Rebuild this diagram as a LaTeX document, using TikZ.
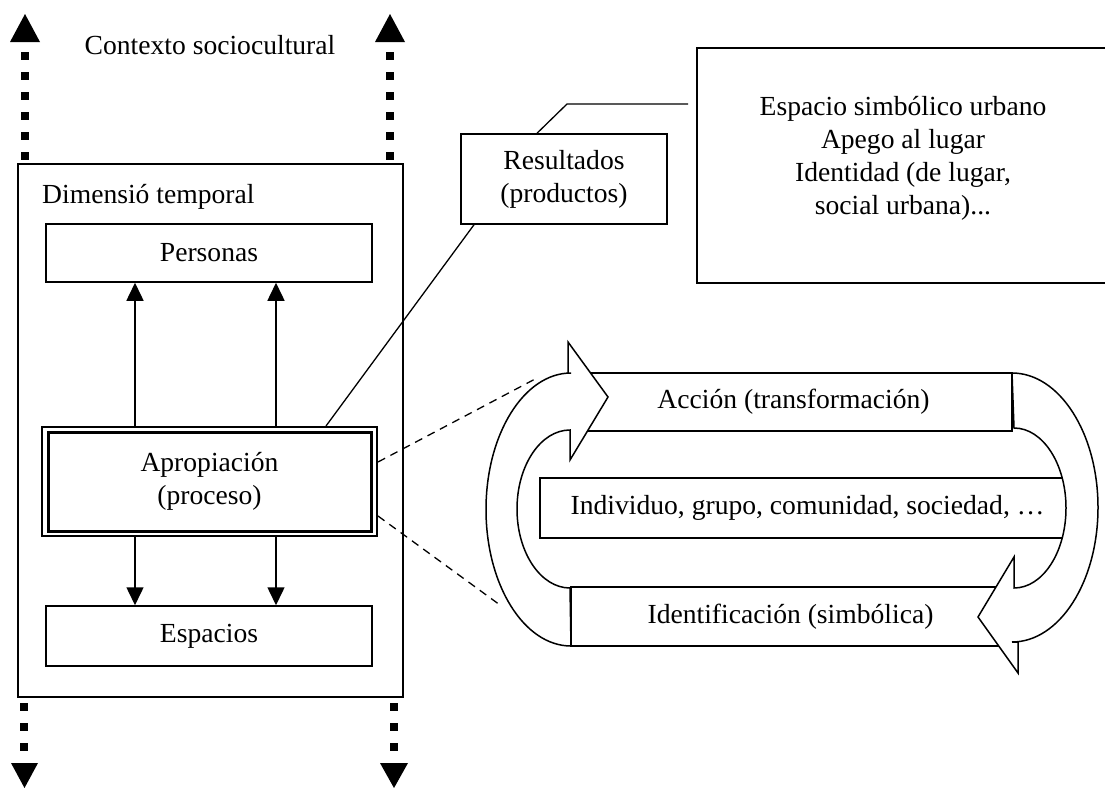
\documentclass[tikz,border=0pt]{standalone}
\usepackage{fontspec}
\setmainfont{Liberation Serif}
\usetikzlibrary{arrows.meta,calc}
\begin{document}
\begin{tikzpicture}[x=1pt,y=-1pt,line join=miter,
  every node/.style={font=\fontsize{27.6pt}{33pt}\selectfont},
  box/.style={draw,line width=1.5pt,fill=white,inner sep=0pt},
  arr/.style={line width=1.5pt,-{Triangle[width=17pt,length=18pt]}},
  ctx/.style={line width=8pt,dash pattern=on 8pt off 12pt},
  lnk/.style={line width=1.3pt},
  dsh/.style={line width=1.3pt,dash pattern=on 8pt off 6pt},
  curved/.style={draw,line width=1.5pt,fill=white,line join=miter}]
\useasboundingbox (0,0) rectangle (1105,787);

% context (dotted) arrows
\coordinate (tla) at (25,52);  \coordinate (tlb) at (25,162);
\coordinate (tra) at (390,52); \coordinate (trb) at (390,162);
\coordinate (bla) at (24,703); \coordinate (blb) at (24,752);
\coordinate (bra) at (394,703);\coordinate (brb) at (394,752);
\draw[ctx] (tla) -- (tlb);
\draw[ctx] (tra) -- (trb);
\draw[ctx] (bla) -- (blb);
\draw[ctx] (bra) -- (brb);
\fill (10,42) -- (40,42) -- (25,14) -- cycle;
\fill (375,42) -- (405,42) -- (390,14) -- cycle;
\fill (11,763) -- (38,763) -- (24.5,788) -- cycle;
\fill (380,763) -- (408,763) -- (394,788) -- cycle;

\node[anchor=base,inner sep=0pt] (ctxtxt) at (210,54) {Contexto sociocultural};

% temporal dimension box
\node[box,fill=none,anchor=north west,minimum width=385pt,minimum height=533pt] (dim) at (17,163) {};
\node[anchor=base west,inner sep=0pt] (dimtxt) at (42,203) {Dimensió temporal};

\node[box,minimum width=326pt,minimum height=58pt] (pers) at (209,253) {Personas};
\node[box,line width=2pt,minimum width=335pt,minimum height=109pt,align=center] (apro) at (209.5,481.5) {Apropiación\\(proceso)};
\draw[line width=3pt] ([shift={(7,6)}]apro.north west) rectangle ([shift={(-7,-6)}]apro.south east);
\node[box,minimum width=326pt,minimum height=60pt] (esp) at (209,636) {Espacios};

\coordinate (c1) at (135,0); \coordinate (c2) at (276,0);
\draw[arr] (apro.north -| c1) -- (pers.south -| c1);
\draw[arr] (apro.north -| c2) -- (pers.south -| c2);
\draw[arr] (apro.south -| c1) -- (esp.north -| c1);
\draw[arr] (apro.south -| c2) -- (esp.north -| c2);

% results
\node[box,minimum width=206pt,minimum height=90pt,align=center] (res) at (564,179) {Resultados\\(productos)};
\coordinate (r1) at (326,0); \coordinate (r2) at (474,0); \coordinate (r3) at (537,0);
\draw[lnk] (apro.north -| r1) -- (res.south -| r2);
\coordinate (bend) at (567,104); \coordinate (lend) at (688,104);
\draw[lnk] (res.north -| r3) -- (bend) -- (lend);

\node[box,anchor=north west,minimum width=430pt,minimum height=235pt] (big) at (696,47) {};
\node[align=center] (bigtxt) at (903,158) {Espacio simbólico urbano\\Apego al lugar\\Identidad (de lugar,\\social urbana)...};

% dashed zoom lines
\coordinate (da) at (0,462); \coordinate (db) at (0,516);
\coordinate (dae) at (537,378); \coordinate (dbe) at (500,605);
\draw[dsh] (apro.east |- da) -- (dae);
\draw[dsh] (apro.east |- db) -- (dbe);

% cycle
\node[box,minimum width=437pt,minimum height=58pt] (acc) at (793.5,402) {Acción (transformación)};
\node[box,minimum width=535pt,minimum height=60pt] (ind) at (807.5,508) {Individuo, grupo, comunidad, sociedad, …};
\node[box,minimum width=439pt,minimum height=59pt] (ide) at (790.5,616.5) {Identificación (simbólica)};

\draw[curved] (568,373) -- (568,342) -- (608,397) -- (570,460) -- (570,430)
  arc[start angle=270,end angle=90,x radius=53,y radius=79]
  -- (571,646)
  arc[start angle=90,end angle=270,x radius=85,y radius=136.5]
  -- cycle;

\draw[curved] (1012,373)
  arc[start angle=270,end angle=450,x radius=86,y radius=134.5]
  -- (1018,642) -- (1018,673) -- (978,617) -- (1014,557) -- (1014,588)
  arc[start angle=90,end angle=-90,x radius=52,y radius=80]
  -- cycle;
\end{tikzpicture}
\end{document}
